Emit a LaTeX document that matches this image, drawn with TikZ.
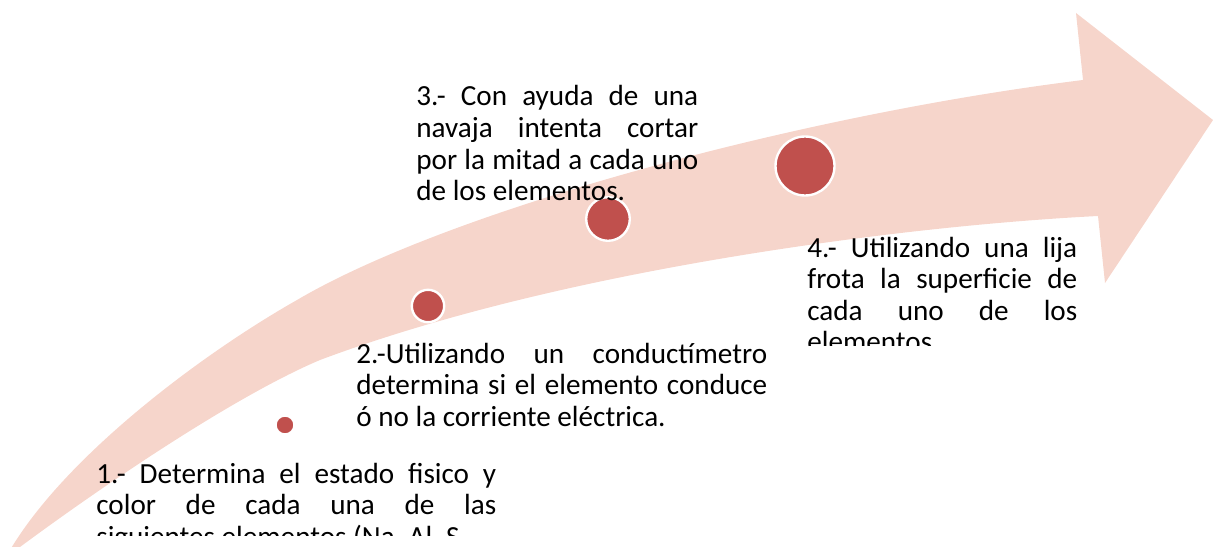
\documentclass[tikz,border=0pt]{standalone}
\usepackage{fontspec}
\setmainfont{Carlito}
\usetikzlibrary{calc}

\definecolor{bandpink}{RGB}{246,213,203}
\definecolor{dotred}{RGB}{192,80,77}

\begin{document}
\begin{tikzpicture}[x=0.02cm, y=-0.02cm,
  dot/.style={circle, fill=dotred, draw=white, line width=1.35pt, inner sep=0pt},
  steptext/.style={anchor=base west, inner sep=0pt, align=justify,
    font=\fontsize{16.6}{18}\selectfont}]
  % Frame
  \useasboundingbox (0,0) rectangle (1213,547);
  \clip (0,0) rectangle (1213,547);
  % Curved band with arrow head
  \fill[bandpink] (6,557) .. controls (60,460) and (200,355) .. (297,300)
    .. controls (450,210) and (800,115) .. (1083,80)
    -- (1076,13) -- (1213,120) -- (1105,283) -- (1098,216)
    .. controls (900,226) and (560,270) .. (320,360)
    .. controls (230,398) and (90,495) .. (20,547)
    -- cycle;
  % Markers along the band
  \node[dot, minimum size=0.38cm] (m1) at (285,425) {};
  \node[dot, minimum size=0.648cm] (m2) at (428,306) {};
  \node[dot, minimum size=0.872cm] (m3) at (608,219) {};
  \node[dot, minimum size=1.18cm] (m4) at (805,166) {};
  % Step texts
  \node[steptext, text width=8.22cm] (s2) at (356,363)
    {2.-Utilizando un conductímetro\linebreak determina si el elemento conduce\linebreak ó no la corriente eléctrica.};
  \node[steptext, text width=5.64cm] (s3) at (416,106)
    {3.- Con ayuda de una\linebreak navaja intenta cortar\linebreak por la mitad a cada uno\linebreak de los elementos.};
  % Text boxes cut at their lower edge
  \begin{scope}
    \clip (790,220) rectangle (1100,345);
    \node[steptext, text width=5.4cm] (s4) at (807,257)
      {4.- Utilizando una lija\linebreak frota la superficie de\linebreak cada uno de los\linebreak elementos.};
  \end{scope}
  \begin{scope}
    \clip (80,440) rectangle (500,535);
    \node[steptext, text width=8.0cm] (s1) at (96,483)
      {1.- Determina el estado fisico y\linebreak color de cada una de las\linebreak
       \makebox[\linewidth][l]{siguientes elementos (Na, Al, S}};
  \end{scope}
\end{tikzpicture}
\end{document}
